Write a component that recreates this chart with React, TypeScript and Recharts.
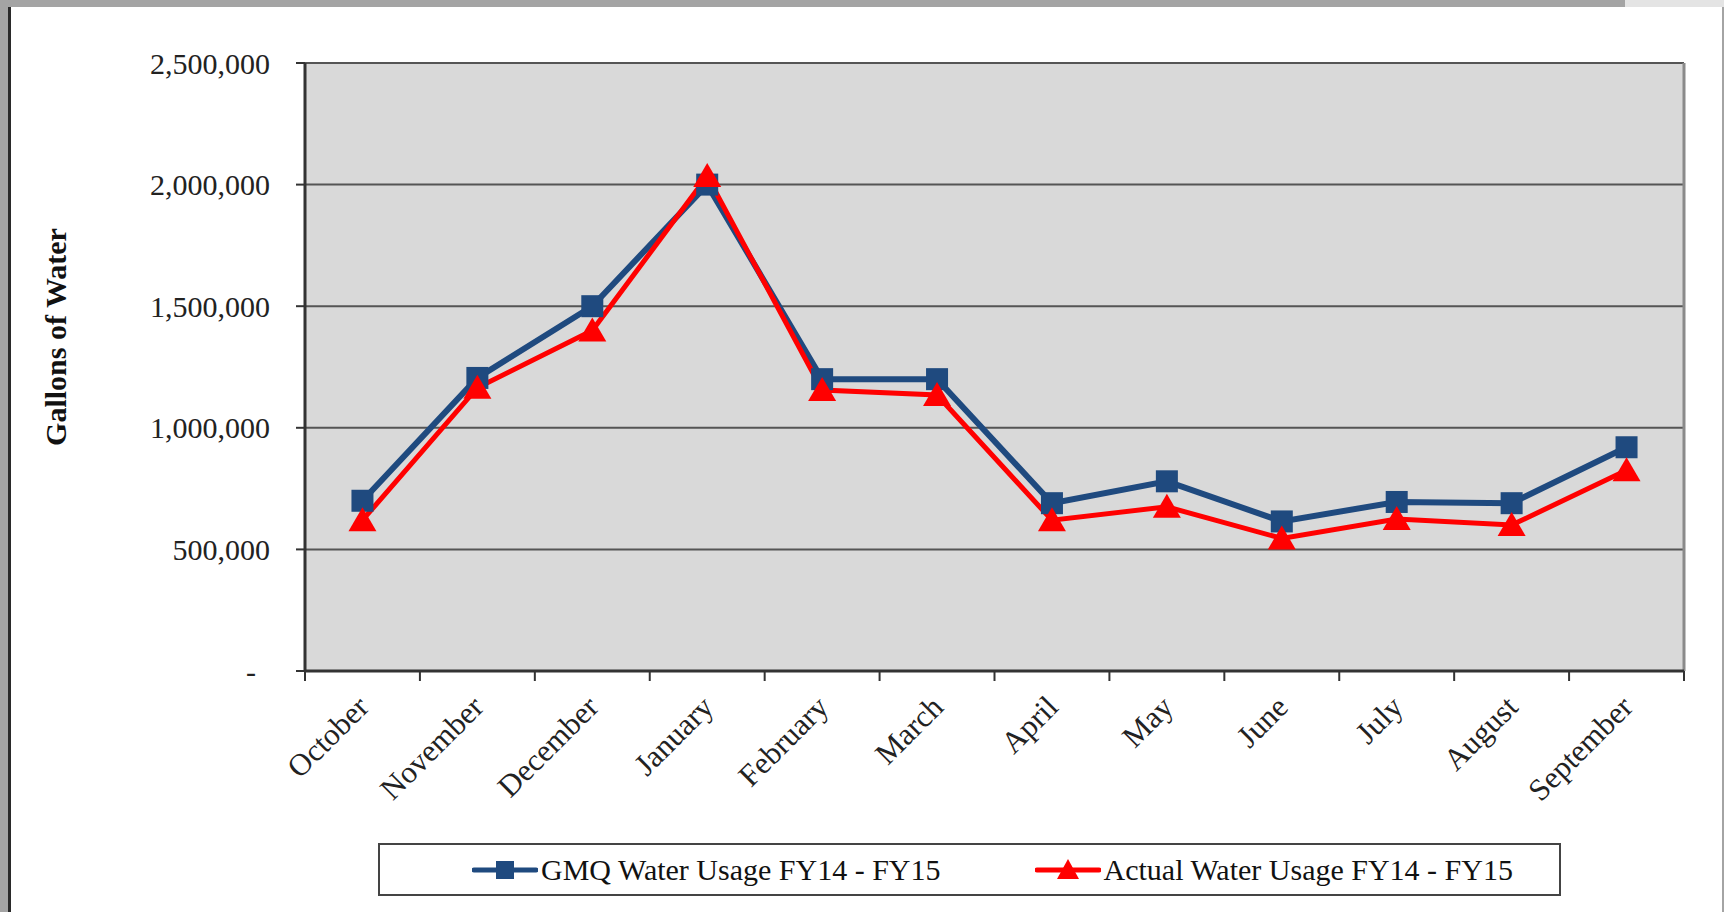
import { LineChart, Line, XAxis, YAxis, CartesianGrid, Legend } from 'recharts';

const MONTHS = [
  'October', 'November', 'December', 'January', 'February', 'March',
  'April', 'May', 'June', 'July', 'August', 'September',
];
const GMQ_USAGE = [700000, 1205000, 1500000, 2000000, 1200000, 1200000, 690000, 780000, 615000, 695000, 690000, 920000];
const ACTUAL_USAGE = [620000, 1165000, 1400000, 2035000, 1155000, 1135000, 620000, 675000, 545000, 625000, 600000, 825000];
const Y_TICKS = [0, 500000, 1000000, 1500000, 2000000, 2500000];
const SERIES_NAMES = ['GMQ Water Usage FY14 - FY15', 'Actual Water Usage FY14 - FY15'];

const BLUE = '#1f4a7f';
const RED = '#ff0000';
const FONT = '"Liberation Serif", "Times New Roman", serif';

const data = MONTHS.map((month, i) => ({ month, gmq: GMQ_USAGE[i], actual: ACTUAL_USAGE[i] }));

function SquareDot({ cx, cy }: any) {
  if (cx == null || cy == null) return null;
  return <rect x={cx - 11} y={cy - 11} width={22} height={22} fill={BLUE} />;
}

function TriangleDot({ cx, cy }: any) {
  if (cx == null || cy == null) return null;
  return <path d={`M${cx},${cy - 13}L${cx + 14},${cy + 11}L${cx - 14},${cy + 11}Z`} fill={RED} />;
}

function YTick({ x, y, payload }: any) {
  const v = payload.value;
  return (
    <text x={v === 0 ? x - 14 : x} y={y} dy="0.35em" textAnchor="end" fontFamily={FONT} fontSize={30} fill="#222">
      {v === 0 ? '-' : v.toLocaleString('en-US')}
    </text>
  );
}

// Excel puts the category ticks between the labels, so draw them here
function XTick({ x, y, payload, index, width }: any) {
  const band = (width ?? 1379) / MONTHS.length;
  const tx = x + 8;
  const ty = y + 38;
  return (
    <g>
      <line x1={x - band / 2} y1={y} x2={x - band / 2} y2={y + 10} stroke="#333" strokeWidth={2} />
      {index === MONTHS.length - 1 && (
        <line x1={x + band / 2} y1={y} x2={x + band / 2} y2={y + 10} stroke="#333" strokeWidth={2} />
      )}
      <text x={tx} y={ty} transform={`rotate(-45, ${tx}, ${ty})`} textAnchor="end" fontFamily={FONT} fontSize={31} fill="#222">
        {payload.value}
      </text>
    </g>
  );
}

function YTitle({ viewBox }: any) {
  const cx = viewBox.x;
  const cy = viewBox.y + viewBox.height / 2 - 30;
  return (
    <text x={cx} y={cy} transform={`rotate(-90, ${cx}, ${cy})`} textAnchor="middle" dominantBaseline="central"
      fontFamily={FONT} fontWeight="bold" fontSize={30} fill="#111">
      Gallons of Water
    </text>
  );
}

function LegendIcon({ color, shape }: { color: string; shape: 'square' | 'triangle' }) {
  return (
    <svg width={66} height={30} style={{ display: 'block' }}>
      <line x1={2} y1={15} x2={64} y2={15} stroke={color} strokeWidth={5} strokeLinecap="round" />
      {shape === 'square'
        ? <rect x={24} y={6} width={18} height={18} fill={color} />
        : <path d="M33,4L44,24L22,24Z" fill={color} />}
    </svg>
  );
}

function LegendBox() {
  return (
    <div style={{ display: 'flex', alignItems: 'center', height: '100%', paddingLeft: 92, fontFamily: FONT, fontSize: 30, color: '#111' }}>
      <LegendIcon color={BLUE} shape="square" />
      <span style={{ marginLeft: 3 }}>{SERIES_NAMES[0]}</span>
      <div style={{ width: 94 }} />
      <LegendIcon color={RED} shape="triangle" />
      <span style={{ marginLeft: 3 }}>{SERIES_NAMES[1]}</span>
    </div>
  );
}

export default function App() {
  return (
    <div style={{ position: 'absolute', left: 0, top: 0, width: 1724, height: 912, background: '#a4a4a4', overflow: 'hidden' }}>
      <div style={{ position: 'absolute', left: 1625, top: 0, width: 99, height: 7, background: '#e4e4e4' }} />
      <div style={{ position: 'absolute', left: 8, top: 7, width: 1711, height: 905, background: '#fff', borderLeft: '3px solid #2a2a2a' }} />
      <div style={{ position: 'absolute', left: 0, top: 0 }}>
        <LineChart width={1724} height={912} data={data} margin={{ top: 63, right: 40, left: 55, bottom: 141 }}>
          <CartesianGrid vertical={false} stroke="#555" strokeWidth={2} fill="#d9d9d9" />
          <CartesianGrid horizontal={false} stroke="#8a8a8a" strokeWidth={3}
            verticalCoordinatesGenerator={({ offset }: any) => [offset.left + offset.width]} />
          <XAxis dataKey="month" scale="band" height={100} interval={0} tick={<XTick />} tickLine={false} tickSize={0} tickMargin={0}
            axisLine={{ stroke: '#333', strokeWidth: 3 }} />
          <YAxis width={250} domain={[0, 2500000]} ticks={Y_TICKS} interval={0} tick={<YTick />} tickSize={9} tickMargin={26}
            tickLine={{ stroke: '#333', strokeWidth: 2 }} axisLine={{ stroke: '#333', strokeWidth: 3 }}
            label={{ content: YTitle }} />
          <Legend layout="horizontal" verticalAlign="middle" align="center" content={<LegendBox />}
            wrapperStyle={{ left: 378, top: 843, width: 1183, height: 53, border: '2px solid #444', background: '#fff', boxSizing: 'border-box' }} />
          <Line type="linear" dataKey="gmq" name={SERIES_NAMES[0]} stroke={BLUE} strokeWidth={6}
            dot={(p: any) => <SquareDot key={`g${p.index}`} {...p} />} activeDot={false} isAnimationActive={false} />
          <Line type="linear" dataKey="actual" name={SERIES_NAMES[1]} stroke={RED} strokeWidth={5}
            dot={(p: any) => <TriangleDot key={`a${p.index}`} {...p} />} activeDot={false} isAnimationActive={false} />
        </LineChart>
      </div>
    </div>
  );
}
